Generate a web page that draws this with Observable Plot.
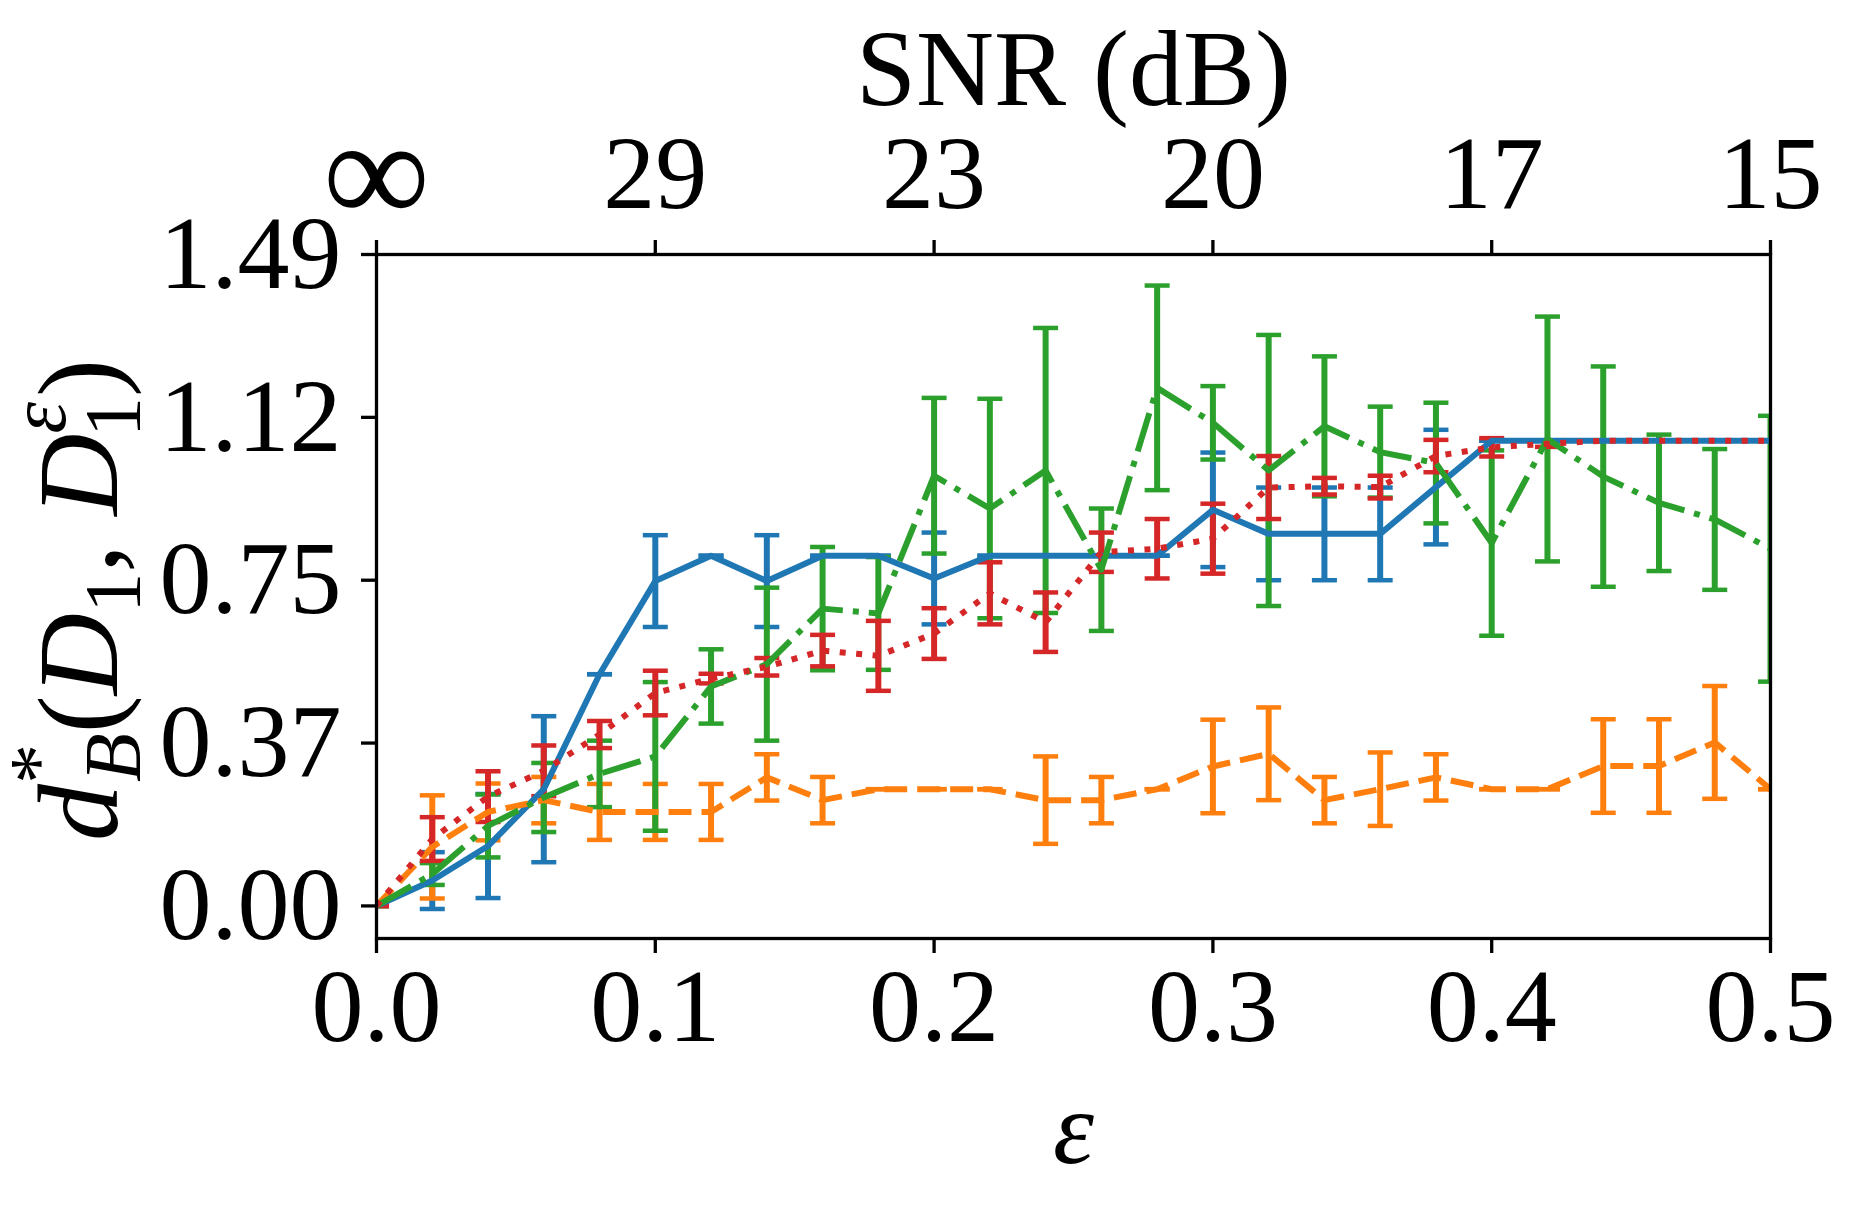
<!DOCTYPE html>
<html><head><meta charset="utf-8">
<script src="https://cdn.jsdelivr.net/npm/d3@7"></script>
<script src="https://cdn.jsdelivr.net/npm/@observablehq/plot@0.6"></script>
<style>html,body{margin:0;padding:0;background:#fff;} #chart svg{display:block;}</style>
</head><body><div id="chart"></div>
<script>
// ---- data ----
const eps = [0, 0.02, 0.04, 0.06, 0.08, 0.10, 0.12, 0.14, 0.16, 0.18, 0.20, 0.22, 0.24, 0.26, 0.28, 0.30, 0.32, 0.34, 0.36, 0.38, 0.40, 0.42, 0.44, 0.46, 0.48, 0.50];

const blueMean = [0, 0.058, 0.137, 0.267, 0.530, 0.743, 0.801, 0.743, 0.801, 0.801, 0.749, 0.801, 0.801, 0.801, 0.801, 0.906, 0.851, 0.851, 0.851, 0.958, 1.064, 1.064, 1.064, 1.064, 1.064, 1.064];
const blueErr  = [0, 0.065, 0.119, 0.167, 0, 0.105, 0, 0.105, 0, 0, 0.105, 0, 0, 0, 0, 0.131, 0.106, 0.106, 0.106, 0.131, 0, 0, 0, 0, 0, 0];

const orangeMean = [0, 0.135, 0.215, 0.242, 0.215, 0.215, 0.215, 0.294, 0.242, 0.267, 0.267, 0.267, 0.242, 0.242, 0.267, 0.319, 0.348, 0.242, 0.267, 0.294, 0.267, 0.267, 0.320, 0.320, 0.374, 0.267];
const orangeErr  = [0, 0.118, 0.065, 0.053, 0.064, 0.064, 0.064, 0.053, 0.053, 0, 0, 0, 0.100, 0.053, 0, 0.107, 0.106, 0.053, 0.084, 0.053, 0, 0, 0.107, 0.107, 0.129, 0];

const greenMean = [0, 0.073, 0.183, 0.248, 0.302, 0.342, 0.502, 0.553, 0.680, 0.669, 0.984, 0.909, 0.996, 0.769, 1.185, 1.105, 0.996, 1.097, 1.038, 1.013, 0.830, 1.068, 0.982, 0.922, 0.884, 0.817];
const greenErr  = [0, 0.025, 0.072, 0.079, 0.076, 0.170, 0.085, 0.175, 0.141, 0.129, 0.178, 0.251, 0.326, 0.140, 0.234, 0.084, 0.310, 0.160, 0.104, 0.138, 0.212, 0.280, 0.252, 0.156, 0.161, 0.304];

const redMean = [0, 0.153, 0.250, 0.309, 0.392, 0.487, 0.520, 0.547, 0.584, 0.572, 0.623, 0.715, 0.649, 0.809, 0.817, 0.840, 0.957, 0.960, 0.958, 1.029, 1.049, 1.057, 1.064, 1.064, 1.064, 1.064];
const redErr  = [0, 0.050, 0.058, 0.058, 0.031, 0.051, 0.011, 0.020, 0.036, 0.080, 0.058, 0.071, 0.068, 0.045, 0.068, 0.080, 0.072, 0.019, 0.026, 0.037, 0.021, 0.007, 0, 0, 0, 0];

const xTicks = [0, 0.1, 0.2, 0.3, 0.4, 0.5];
const xTickLabels = ["0.0", "0.1", "0.2", "0.3", "0.4", "0.5"];
const snrTickLabels = ["∞", "29", "23", "20", "17", "15"];
const yTicks = [0, 0.3725, 0.745, 1.1175, 1.49];
const yTickLabels = ["0.00", "0.37", "0.75", "1.12", "1.49"];
const yDomain = [-0.0745, 1.49];
const xDomain = [0, 0.5];

// ---- styling ----
const FONT = "'Liberation Serif', 'Times New Roman', serif";
const FS = 104;
const LW = 6;
const series = [
  {key: "blue",   color: "#1f77b4", mean: blueMean,   err: blueErr,   dash: null},
  {key: "orange", color: "#ff7f0e", mean: orangeMean, err: orangeErr, dash: "23,10"},
  {key: "green",  color: "#2ca02c", mean: greenMean,  err: greenErr,  dash: "40,10,6,10"},
  {key: "red",    color: "#d62728", mean: redMean,    err: redErr,    dash: "6,10.5"}
];
const tables = series.map(s => eps.map((x, i) => ({x, y: s.mean[i], e: s.err[i], lo: s.mean[i] - s.err[i], hi: s.mean[i] + s.err[i]})));

const capSymbol = {draw(ctx) { ctx.moveTo(-12.5, 0); ctx.lineTo(12.5, 0); }};

const barMarks = series.flatMap((s, k) => [
  Plot.ruleX(tables[k].filter(d => d.e > 0), {x: "x", y1: "lo", y2: "hi", stroke: s.color, strokeWidth: LW, clip: true}),
  Plot.dot(tables[k], {x: "x", y: "lo", symbol: capSymbol, stroke: s.color, fill: "none", strokeWidth: 4.5, clip: true}),
  Plot.dot(tables[k], {x: "x", y: "hi", symbol: capSymbol, stroke: s.color, fill: "none", strokeWidth: 4.5, clip: true})
]);
const lineMarks = series.map((s, k) =>
  Plot.line(tables[k], {x: "x", y: "y", stroke: s.color, strokeWidth: LW, strokeDasharray: s.dash, strokeLinejoin: "round", strokeLinecap: "butt", clip: true})
);

const chart = Plot.plot({
  width: 1866, height: 1214,
  marginLeft: 376, marginRight: 96, marginTop: 254, marginBottom: 276,
  style: {fontFamily: FONT, fontSize: FS + "px", background: "white", color: "black", overflow: "visible"},
  x: {domain: xDomain},
  y: {domain: yDomain},
  marks: [
    ...barMarks,
    ...lineMarks,
    Plot.frame({stroke: "black", strokeWidth: 3.3}),
    Plot.axisY(yTicks, {tickFormat: d => yTickLabels[yTicks.indexOf(d)], tickSize: 15, tickPadding: 20, fontSize: FS, label: null, strokeWidth: 3.3}),
    Plot.axisX(xTicks, {anchor: "bottom", tickFormat: d => xTickLabels[xTicks.indexOf(d)], tickSize: 15, tickPadding: 14, fontSize: FS, label: null, strokeWidth: 3.3}),
    Plot.axisX(xTicks, {anchor: "top", tickFormat: d => snrTickLabels[xTicks.indexOf(d)], tickSize: 15, tickPadding: 32, fontSize: FS, label: null, strokeWidth: 3.3}),
    Plot.text(["SNR (dB)"], {frameAnchor: "top", text: d => d, lineAnchor: "bottom", dy: -150, fontSize: 108}),
    Plot.text(["ε"], {frameAnchor: "bottom", text: d => d, lineAnchor: "bottom", dy: 224, fontSize: FS, fontStyle: "italic"})
  ]
});
document.getElementById("chart").appendChild(chart);

const svg = d3.select(chart);
// enlarge the infinity sign like the reference
svg.selectAll("text").filter(function() { return this.textContent === "∞"; }).attr("font-size", 150).attr("dy", "0.1em");

// y-axis label with sub/superscripts
const F = 114, s = 80;
const t = svg.append("text")
  .attr("transform", "translate(117,600) rotate(-90)")
  .attr("text-anchor", "middle")
  .attr("font-family", FONT)
  .attr("font-size", F)
  .attr("fill", "black");
t.append("tspan").attr("font-style", "italic").text("d");
t.append("tspan").attr("font-size", s).attr("dy", -52).text("*");
t.append("tspan").attr("font-size", s).attr("font-style", "italic").attr("dx", -38).attr("dy", 75).text("B");
t.append("tspan").attr("dy", -23).text("(");
t.append("tspan").attr("font-style", "italic").text("D");
t.append("tspan").attr("font-size", s).attr("dy", 23).text("1");
t.append("tspan").attr("dy", -23).text(", ");
t.append("tspan").attr("font-style", "italic").text("D");
t.append("tspan").attr("font-size", s).attr("font-style", "italic").attr("dy", -52).text("ε");
t.append("tspan").attr("font-size", s).attr("dx", -35).attr("dy", 75).text("1");
t.append("tspan").attr("dy", -23).text(")");
</script>
</body></html>
